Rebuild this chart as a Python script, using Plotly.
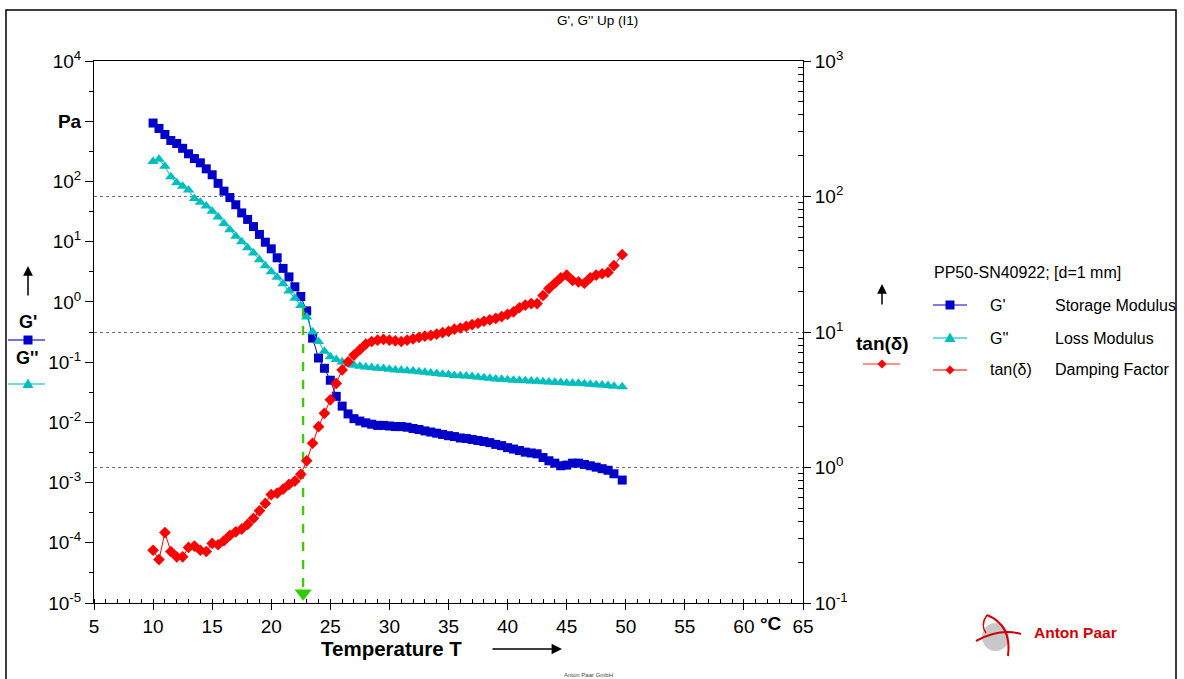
import plotly.graph_objects as go

# ---------------- data ----------------
temperature = [10.0, 10.5, 11.0, 11.5, 12.0, 12.5, 13.0, 13.5, 14.0, 14.5,
               15.0, 15.5, 16.0, 16.5, 17.0, 17.5, 18.0, 18.5, 19.0, 19.5,
               20.0, 20.5, 21.0, 21.5, 22.0, 22.5, 23.0, 23.5, 24.0, 24.5,
               25.0, 25.5, 26.0, 26.5, 27.0, 27.5, 28.0, 28.5, 29.0, 29.5,
               30.0, 30.5, 31.0, 31.5, 32.0, 32.5, 33.0, 33.5, 34.0, 34.5,
               35.0, 35.5, 36.0, 36.5, 37.0, 37.5, 38.0, 38.5, 39.0, 39.5,
               40.0, 40.5, 41.0, 41.5, 42.0, 42.5, 43.0, 43.5, 44.0, 44.5,
               45.0, 45.5, 46.0, 46.5, 47.0, 47.5, 48.0, 48.5, 49.0, 49.7]

storage_modulus = [933, 759, 603, 479, 427, 355, 288, 240, 204, 162,
                   129, 93, 69, 54, 41, 30, 23.4, 17.8, 13.2, 9.8,
                   7.6, 5.4, 3.6, 2.6, 1.78, 1.23, 0.71, 0.25, 0.117, 0.079,
                   0.050, 0.027, 0.0186, 0.0138, 0.0115, 0.0105, 0.0098, 0.0093, 0.0089, 0.0089,
                   0.0087, 0.0085, 0.0085, 0.0083, 0.0079, 0.0076, 0.0072, 0.0069, 0.0066, 0.0063,
                   0.0060, 0.0058, 0.0055, 0.0054, 0.0052, 0.0050, 0.0048, 0.0046, 0.0043, 0.0041,
                   0.0038, 0.0036, 0.0034, 0.0032, 0.0031, 0.0030, 0.0026, 0.0023, 0.0021, 0.0019,
                   0.00195, 0.0021, 0.0021, 0.0020, 0.0019, 0.0018, 0.0017, 0.0016, 0.0014, 0.0011]

loss_modulus = [214, 234, 178, 120, 95, 83, 72, 52, 45, 39,
                32, 25.7, 20, 15.8, 12.3, 10, 7.9, 6.5, 5.0, 4.0,
                3.16, 2.57, 2.0, 1.51, 1.15, 0.87, 0.56, 0.316, 0.219, 0.151,
                0.123, 0.110, 0.100, 0.093, 0.089, 0.085, 0.083, 0.081, 0.079, 0.078,
                0.076, 0.074, 0.073, 0.072, 0.071, 0.069, 0.068, 0.066, 0.065, 0.063,
                0.062, 0.060, 0.0596, 0.059, 0.0575, 0.056, 0.055, 0.054, 0.0525, 0.052,
                0.051, 0.050, 0.0495, 0.049, 0.0484, 0.0479, 0.0473, 0.0468, 0.0462, 0.0457,
                0.0452, 0.0447, 0.0447, 0.0437, 0.0427, 0.0422, 0.0417, 0.0407, 0.0398, 0.0389]

damping_factor = [0.245, 0.209, 0.331, 0.240, 0.219, 0.219, 0.257, 0.263, 0.245, 0.240,
                  0.275, 0.269, 0.288, 0.316, 0.335, 0.351, 0.380, 0.422, 0.479, 0.543,
                  0.631, 0.646, 0.692, 0.750, 0.794, 0.891, 1.12, 1.51, 2.0, 2.51,
                  3.16, 4.17, 5.25, 6.03, 6.76, 7.41, 8.13, 8.51, 8.71, 8.81,
                  8.71, 8.61, 8.51, 8.71, 8.91, 9.12, 9.33, 9.44, 9.66, 9.89,
                  10.1, 10.5, 10.7, 11.0, 11.35, 11.6, 12.0, 12.3, 12.6, 13.0,
                  13.5, 14.1, 15.1, 15.8, 16.2, 16.2, 18.6, 20.9, 22.9, 25.1,
                  26.3, 24.0, 23.4, 22.9, 25.1, 26.3, 26.9, 27.5, 30.9, 37.2]

crossover_T = 22.7      # G' = G'' crossover temperature
crossover_G = 0.79      # modulus at crossover (Pa)

x_ticks = [5, 10, 15, 20, 25, 30, 35, 40, 45, 50, 55, 60, 65]
left_exponents = [-5, -4, -3, -2, -1, 0, 1, 2, 3, 4]
right_exponents = [-1, 0, 1, 2, 3]

# ---------------- styling ----------------
FONT = "Liberation Sans, Arial, sans-serif"
BLUE = "#0000C8"
CYAN = "#00BEBE"
RED = "#FF0000"
GREEN = "#33CC00"

L, R, T_, B = 94, 381, 61, 76
W, H = 1184, 679
PW, PH = W - L - R, H - T_ - B


def px(x):
    return (x - L) / PW


def py(y):
    return (H - B - y) / PH


fig = go.Figure()

fig.add_trace(go.Scatter(x=temperature, y=storage_modulus, mode="lines+markers",
                         line=dict(color=BLUE, width=1),
                         marker=dict(symbol="square", size=9, color=BLUE),
                         name="G'", yaxis="y"))
fig.add_trace(go.Scatter(x=temperature, y=loss_modulus, mode="lines+markers",
                         line=dict(color=CYAN, width=1),
                         marker=dict(symbol="triangle-up", size=10, color=CYAN),
                         name="G''", yaxis="y"))
fig.add_trace(go.Scatter(x=temperature, y=damping_factor, mode="lines+markers",
                         line=dict(color=RED, width=1),
                         marker=dict(symbol="diamond", size=9, color=RED),
                         name="tan(δ)", yaxis="y2"))

# crossover marker (green dashed arrow down to the temperature axis)
fig.add_trace(go.Scatter(x=[crossover_T, crossover_T], y=[crossover_G, 1.7e-5],
                         mode="lines", line=dict(color=GREEN, width=2.2, dash="dash"),
                         yaxis="y", hoverinfo="skip"))
fig.add_trace(go.Scatter(x=[crossover_T], y=[1.45e-5], mode="markers",
                         marker=dict(symbol="triangle-down", size=15, color=GREEN),
                         yaxis="y", hoverinfo="skip", cliponaxis=False))

left_text = []
for e in left_exponents:
    if e == 3:
        left_text.append("<b>Pa</b>")
    else:
        left_text.append("10<sup>%d</sup>" % e)
right_text = ["10<sup>%d</sup>" % e for e in right_exponents]

fig.update_layout(
    width=W, height=H,
    margin=dict(l=L, r=R, t=T_, b=B, pad=0),
    paper_bgcolor="white", plot_bgcolor="white",
    showlegend=False,
    font=dict(family=FONT, color="black"),
    xaxis=dict(range=[5, 65], tickmode="array", tickvals=x_ticks,
               ticktext=[str(v) for v in x_ticks],
               showline=True, linecolor="black", linewidth=1, mirror=True,
               ticks="outside", ticklen=6, tickcolor="black",
               minor=dict(dtick=1, tick0=5, ticks="inside", ticklen=4, tickcolor="black"),
               tickfont=dict(size=19, family=FONT), showgrid=False, zeroline=False),
    yaxis=dict(type="log", range=[-5, 4], tickmode="array",
               tickvals=[10.0 ** e for e in left_exponents], ticktext=left_text,
               showline=True, linecolor="black", linewidth=1,
               ticks="outside", ticklen=8, tickcolor="black",
               minor=dict(tickvals=[10.0 ** (e + 0.5) for e in left_exponents[:-1]],
                          ticks="outside", ticklen=4, tickcolor="black"),
               tickfont=dict(size=19, family=FONT), showgrid=False, zeroline=False),
    yaxis2=dict(type="log", range=[-1, 3], overlaying="y", side="right",
                tickmode="array", tickvals=[10.0 ** e for e in right_exponents],
                ticktext=right_text,
                showline=True, linecolor="black", linewidth=1,
                ticks="outside", ticklen=7, tickcolor="black",
                minor=dict(tickvals=[m * 10.0 ** e for e in right_exponents[:-1] for m in range(2, 10)],
                           ticks="inside", ticklen=5, tickcolor="black"),
                showgrid=True, gridcolor="#707070", griddash="dot", gridwidth=1,
                tickfont=dict(size=19, family=FONT), zeroline=False),
)

shapes = []
annotations = []


def text(t, x, y, size, xanchor="center", color="black"):
    annotations.append(dict(text=t, x=px(x), y=py(y), xref="paper", yref="paper",
                            xanchor=xanchor, yanchor="middle", showarrow=False,
                            font=dict(size=size, family=FONT, color=color)))


# outer frame
shapes.append(dict(type="rect", xref="paper", yref="paper",
                   x0=px(6), x1=px(1176), y0=py(700), y1=py(10),
                   line=dict(color="black", width=1.5), layer="below"))

# title
text("G', G'' Up (I1)", 597, 20, 13.5)


def line_marker(x0, x1, y, color, marker, mcolor, mx=None):
    mx = (x0 + x1) / 2 if mx is None else mx
    shapes.append(dict(type="line", xref="paper", yref="paper", x0=px(x0), x1=px(x1),
                       y0=py(y), y1=py(y), line=dict(color=color, width=1.5)))
    if marker == "square":
        shapes.append(dict(type="rect", xref="paper", yref="paper", x0=px(mx - 4.5), x1=px(mx + 4.5),
                           y0=py(y + 4.5), y1=py(y - 4.5), fillcolor=mcolor, line=dict(width=0)))
    elif marker == "triangle":
        path = "M %f,%f L %f,%f L %f,%f Z" % (px(mx), py(y - 5.5), px(mx - 5.5), py(y + 4),
                                               px(mx + 5.5), py(y + 4))
        shapes.append(dict(type="path", xref="paper", yref="paper", path=path,
                           fillcolor=mcolor, line=dict(width=0)))
    elif marker == "diamond":
        path = "M %f,%f L %f,%f L %f,%f L %f,%f Z" % (px(mx), py(y - 4.5), px(mx + 4.5), py(y),
                                                       px(mx), py(y + 4.5), px(mx - 4.5), py(y))
        shapes.append(dict(type="path", xref="paper", yref="paper", path=path,
                           fillcolor=mcolor, line=dict(width=0)))


def arrow(xhead, yhead, xtail, ytail, size=1.3, width=1.5):
    annotations.append(dict(x=px(xhead), y=py(yhead), ax=xtail - xhead, ay=ytail - yhead,
                            xref="paper", yref="paper", axref="pixel", ayref="pixel",
                            text="", showarrow=True, arrowhead=2, arrowsize=size,
                            arrowwidth=width, arrowcolor="black"))


# left axis legend
arrow(28, 266, 28, 297)
text("<b>G'</b>", 28, 322, 18)
line_marker(8, 45, 340, "#4040E0", "square", BLUE, mx=28)
text("<b>G''</b>", 27, 358, 18)
line_marker(8, 45, 384, "#40D0D0", "triangle", CYAN, mx=28)

# right axis legend
arrow(882, 284, 882, 306)
text("<b>tan(δ)</b>", 882, 344, 19)
line_marker(863, 900, 364, "#FF7070", "diamond", RED, mx=882)

# series legend
text("PP50-SN40922; [d=1 mm]", 932, 272, 16, xanchor="left")
rows = [(305, "#5050E0", "square", BLUE, "G'", "Storage Modulus"),
        (338, "#40D0D0", "triangle", CYAN, "G''", "Loss Modulus"),
        (370, "#FF5050", "diamond", RED, "tan(δ)", "Damping Factor")]
for y, lc, mk, mc, sym, desc in rows:
    line_marker(933, 967, y, lc, mk, mc)
    text(sym, 988, y, 16, xanchor="left")
    text(desc, 1053, y, 16, xanchor="left")

# x axis title / unit
text("<b>°C</b>", 771, 623, 19)
text("<b>Temperature T</b>", 391, 648, 20.5)
arrow(562, 649, 491, 649, size=1.6, width=1.3)

# footer
text("Anton Paar GmbH", 588, 675, 6, color="#444")

# logo
shapes.append(dict(type="circle", xref="paper", yref="paper", x0=px(982), x1=px(1009),
                   y0=py(651), y1=py(623), fillcolor="#C8C8C8", line=dict(width=0)))
shapes.append(dict(type="path", xref="paper", yref="paper",
                   path="M %f,%f Q %f,%f %f,%f" % (px(976), py(641), px(1000), py(628), px(1021), py(634)),
                   line=dict(color="#D00000", width=2)))
shapes.append(dict(type="path", xref="paper", yref="paper",
                   path="M %f,%f Q %f,%f %f,%f" % (px(987), py(615), px(1012), py(625), px(1008), py(656)),
                   line=dict(color="#D00000", width=2)))
shapes.append(dict(type="path", xref="paper", yref="paper",
                   path="M %f,%f Q %f,%f %f,%f" % (px(987), py(615), px(980), py(625), px(986), py(633)),
                   line=dict(color="#D00000", width=1.5)))
text("<b>Anton Paar</b>", 1032, 632, 15.5, xanchor="left", color="#D00000")

fig.update_layout(shapes=shapes, annotations=annotations)

fig.write_html("out.html", config={"displayModeBar": False},
               post_script="document.body.style.margin='0px';")
